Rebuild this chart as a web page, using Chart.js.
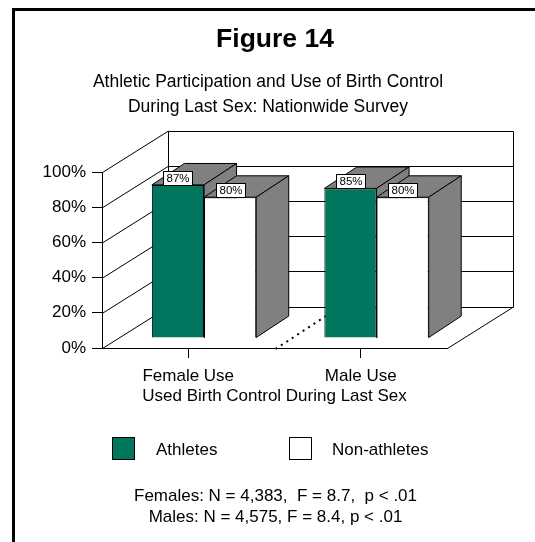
<!DOCTYPE html>
<html>
<head>
<meta charset="utf-8">
<title>Figure 14</title>
<script src="https://cdn.jsdelivr.net/npm/chart.js@4/dist/chart.umd.min.js"></script>
<style>
  html, body { margin: 0; padding: 0; background: #fff; }
  canvas { display: block; }
</style>
</head>
<body>
<canvas id="fig14" width="535" height="542"></canvas>
<script>
// ---- data ----
const categories = ['Female Use', 'Male Use'];
const athletes = [87, 85];
const nonAthletes = [80, 80];
const seriesNames = ['Athletes', 'Non-athletes'];
const yTicks = [0, 20, 40, 60, 80, 100];
const titleText = 'Figure 14';
const subtitleLines = ['Athletic Participation and Use of Birth Control', 'During Last Sex: Nationwide Survey'];
const axisTitle = 'Used Birth Control During Last Sex';
const noteLines = ['Females: N = 4,383,  F = 8.7,  p < .01', 'Males: N = 4,575, F = 8.4, p < .01'];

// ---- styling ----
const FONT = "'Liberation Sans', Arial, Helvetica, sans-serif";
const GREEN = '#00765E';
const SHADE = '#808080';
// oblique depth of the box (walls/floor) and of the bars
const WALL = { dx: 66, dy: -41.5 };
const BAR_FRONT = { dx: 15.8, dy: -10 };
const BAR_DEPTH = { dx: 32.5, dy: -21.4 };

Chart.defaults.font.family = FONT;
Chart.defaults.color = '#000';

const crisp = v => Math.round(v) + 0.5;

function seg(ctx, x1, y1, x2, y2) {
  ctx.beginPath();
  ctx.moveTo(x1, y1);
  ctx.lineTo(x2, y2);
  ctx.stroke();
}

function poly(ctx, pts) {
  ctx.beginPath();
  ctx.moveTo(pts[0][0], pts[0][1]);
  for (let i = 1; i < pts.length; i++) ctx.lineTo(pts[i][0], pts[i][1]);
  ctx.closePath();
  ctx.fill();
  ctx.stroke();
}

// walls, floor, bar depth faces, value tags, legend and notes
const box3d = {
  id: 'box3d',
  beforeDraw(chart) {
    const { ctx, width, height } = chart;
    ctx.save();
    ctx.fillStyle = '#fff';
    ctx.fillRect(0, 0, width, height);
    ctx.strokeStyle = '#000';
    ctx.lineWidth = 3;
    ctx.strokeRect(13.5, 9.5, width + 20, height + 20);

    ctx.textAlign = 'center';
    ctx.textBaseline = 'alphabetic';
    ctx.fillStyle = '#000';
    ctx.font = 'bold 26.5px ' + FONT;
    ctx.fillText(titleText, 275, 46.7);
    ctx.font = '17.5px ' + FONT;
    ctx.fillText(subtitleLines[0], 268, 87.3);
    ctx.fillText(subtitleLines[1], 268, 111.7);
    ctx.restore();
  },
  beforeDatasetsDraw(chart) {
    const { ctx, chartArea: a, scales: { y } } = chart;
    const L = a.left, R = a.right, B = a.bottom;
    const yTop = y.getPixelForValue(yTicks[yTicks.length - 1]);
    ctx.save();
    ctx.strokeStyle = '#000';
    ctx.lineWidth = 1;
    // back wall edges
    const bl = crisp(L + WALL.dx), br = crisp(R + WALL.dx);
    seg(ctx, bl, crisp(yTop + WALL.dy), bl, crisp(B + WALL.dy));
    seg(ctx, br, crisp(yTop + WALL.dy), br, crisp(B + WALL.dy));
    // grid on the back wall and on the left wall
    yTicks.forEach(v => {
      const yy = y.getPixelForValue(v);
      seg(ctx, bl, crisp(yy + WALL.dy), br, crisp(yy + WALL.dy));
      seg(ctx, L + 0.5, yy + 0.5, L + WALL.dx + 0.5, yy + WALL.dy + 0.5);
    });
    // floor right edge
    seg(ctx, R + 0.5, B + 0.5, R + WALL.dx + 0.5, B + WALL.dy + 0.5);
    // dotted divider between the two categories on the floor
    const mid = (L + R) / 2;
    ctx.setLineDash([2, 4.5]);
    ctx.lineWidth = 2;
    seg(ctx, mid + 1, B + 1, mid + WALL.dx, B + WALL.dy);
    ctx.restore();
  },
  beforeDatasetDraw() {
    // bars are painted below, category by category, so neighbours overlap correctly
    return false;
  },
  afterDatasetsDraw(chart) {
    const { ctx } = chart;
    const metas = chart.data.datasets.map((d, i) => chart.getDatasetMeta(i));
    ctx.save();
    ctx.translate(BAR_FRONT.dx, BAR_FRONT.dy);
    ctx.lineWidth = 1;
    categories.forEach((c, ci) => {
      metas.forEach(meta => {
        const el = meta.data[ci];
        el.draw(ctx);
        const { x, y, base, width } = el.getProps(['x', 'y', 'base', 'width'], true);
        const l = x - width / 2, r = x + width / 2;
        const dx = BAR_DEPTH.dx, dy = BAR_DEPTH.dy;
        ctx.fillStyle = SHADE;
        ctx.strokeStyle = '#000';
        poly(ctx, [[l, y], [r, y], [r + dx, y + dy], [l + dx, y + dy]]);
        poly(ctx, [[r, y], [r + dx, y + dy], [r + dx, base + dy], [r, base]]);
      });
    });
    ctx.restore();

    // value tags
    ctx.save();
    ctx.font = '11.5px ' + FONT;
    ctx.textAlign = 'center';
    ctx.textBaseline = 'middle';
    ctx.lineWidth = 1;
    metas.forEach((meta, di) => {
      const values = chart.data.datasets[di].data;
      meta.data.forEach((el, i) => {
        const cx = el.x + BAR_FRONT.dx;
        const top = el.y + BAR_FRONT.dy;
        const w = 29, h = 14;
        const bx = Math.round(cx - w / 2) + 0.5, by = Math.round(top - h) + 0.5;
        ctx.fillStyle = '#fff';
        ctx.strokeStyle = '#000';
        ctx.fillRect(bx, by, w, h);
        ctx.strokeRect(bx, by, w, h);
        ctx.fillStyle = '#000';
        ctx.fillText(values[i] + '%', bx + w / 2, by + h / 2 + 0.5);
      });
    });
    ctx.restore();
  },
  afterDraw(chart) {
    const { ctx } = chart;
    ctx.save();
    // legend
    const items = [{ x: 112, tx: 156 }, { x: 289, tx: 332 }];
    ctx.font = '17px ' + FONT;
    ctx.textAlign = 'left';
    ctx.textBaseline = 'alphabetic';
    ctx.lineWidth = 1;
    chart.data.datasets.forEach((ds, i) => {
      const it = items[i];
      ctx.fillStyle = ds.backgroundColor;
      ctx.strokeStyle = '#000';
      ctx.fillRect(it.x + 0.5, 437.5, 22, 22);
      ctx.strokeRect(it.x + 0.5, 437.5, 22, 22);
      ctx.fillStyle = '#000';
      ctx.fillText(ds.label, it.tx, 455);
    });
    // notes
    ctx.textAlign = 'center';
    ctx.fillText(noteLines[0], 275.5, 501);
    ctx.fillText(noteLines[1], 275.5, 521.7);
    ctx.restore();
  }
};

new Chart(document.getElementById('fig14'), {
  type: 'bar',
  data: {
    labels: categories,
    datasets: [
      { label: seriesNames[0], data: athletes, backgroundColor: GREEN, borderColor: '#000', borderWidth: 1 },
      { label: seriesNames[1], data: nonAthletes, backgroundColor: '#ffffff', borderColor: '#000', borderWidth: 1 }
    ]
  },
  options: {
    responsive: false,
    animation: false,
    devicePixelRatio: 1,
    datasets: { bar: { categoryPercentage: 0.605, barPercentage: 1 } },
    layout: { padding: { top: 172, right: 88, bottom: 135, left: 0 } },
    plugins: {
      legend: { display: false },
      title: { display: false },
      tooltip: { enabled: false }
    },
    scales: {
      x: {
        grid: { drawOnChartArea: false, offset: false, tickLength: 10, color: '#000' },
        border: { color: '#000' },
        ticks: { font: { size: 17 }, padding: 8, color: '#000', maxRotation: 0 },
        title: { display: true, text: axisTitle, font: { size: 17 }, color: '#000', padding: 0 },
        afterFit: s => { s.height = 59; }
      },
      y: {
        min: 0,
        max: 100,
        afterBuildTicks: s => { s.ticks = yTicks.map(v => ({ value: v })); },
        grid: { drawOnChartArea: false, tickLength: 10, color: '#000' },
        border: { color: '#000' },
        ticks: { font: { size: 17 }, padding: 6, color: '#000', callback: v => v + '%' },
        afterFit: s => { s.width = 102; }
      }
    }
  },
  plugins: [box3d]
});
</script>
</body>
</html>
